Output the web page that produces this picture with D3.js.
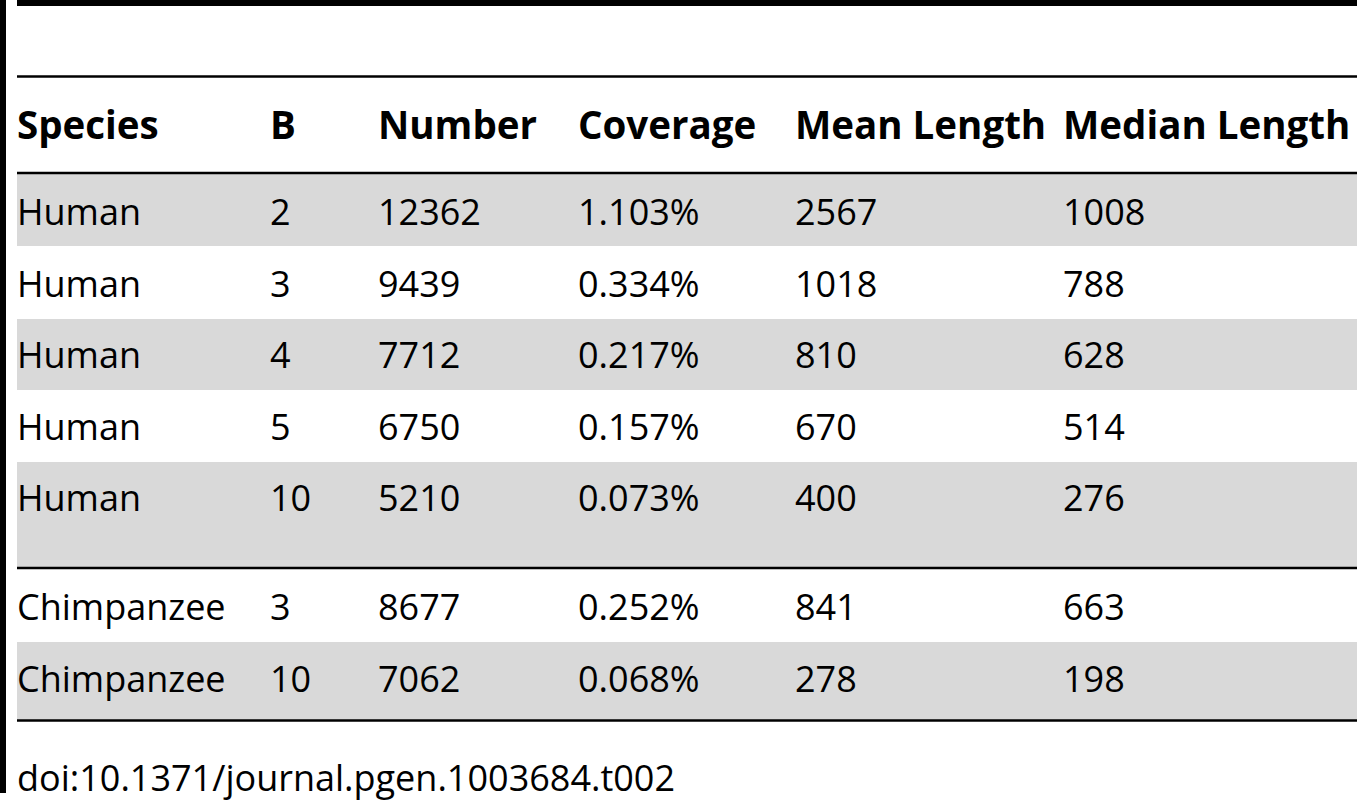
<!DOCTYPE html>
<html>
<head>
<meta charset="utf-8">
<script src="https://cdn.jsdelivr.net/npm/d3@7"></script>
<style>
  body { margin: 0; background: #fff; }
  svg { display: block; }
</style>
</head>
<body>
<svg id="chart"></svg>
<script>
const headers = ['Species', 'B', 'Number', 'Coverage', 'Mean Length', 'Median Length']
const species = ['Human', 'Human', 'Human', 'Human', 'Human', 'Chimpanzee', 'Chimpanzee']
const bValues = [2, 3, 4, 5, 10, 3, 10]
const numbers = [12362, 9439, 7712, 6750, 5210, 8677, 7062]
const coverage = ['1.103%', '0.334%', '0.217%', '0.157%', '0.073%', '0.252%', '0.068%']
const meanLength = [2567, 1018, 810, 670, 400, 841, 278]
const medianLength = [1008, 788, 628, 514, 276, 663, 198]
const footnote = 'doi:10.1371/journal.pgen.1003684.t002'

const width = 1357, height = 800
const left = 17
const font = '"Open Sans", "Noto Sans", sans-serif'
const shade = '#d9d9d9'

const svg = d3.select('#chart').attr('width', width).attr('height', height)

// column x positions
const x = d3.scaleOrdinal().domain(headers).range([17, 270, 378, 578, 795, 1063])

// row tops: 5 human rows, last one taller (spacer), then 2 chimp rows
const rowTops = [173, 246, 319, 390, 462, 568, 642]
const rowBottoms = [246, 319, 390, 462, 568, 642, 720]
const textY = [212, 284, 355, 427, 498, 607, 679]

const rows = species.map((s, i) => ({
  cells: [s, bValues[i], numbers[i], coverage[i], meanLength[i], medianLength[i]],
  top: rowTops[i], bottom: rowBottoms[i], ty: textY[i], shaded: i % 2 === 0
}))

// shaded backgrounds
svg.append('g').selectAll('rect')
  .data(rows.filter((d) => d.shaded))
  .join('rect')
  .attr('x', left)
  .attr('y', (d) => d.top)
  .attr('width', width - left)
  .attr('height', (d) => d.bottom - d.top)
  .attr('fill', shade)

// frame: left bar, thick top rule, table rules
svg.append('rect').attr('x', 0).attr('y', 0).attr('width', 6).attr('height', 793).attr('fill', '#000')
svg.append('rect').attr('x', left).attr('y', 0).attr('width', width - left).attr('height', 6).attr('fill', '#000')
svg.append('g').selectAll('line')
  .data([76.5, 173, 568, 720.5])
  .join('line')
  .attr('x1', left).attr('x2', width)
  .attr('y1', (d) => d).attr('y2', (d) => d)
  .attr('stroke', '#000')
  .attr('stroke-width', 2.5)

// header
svg.append('g').selectAll('text')
  .data(headers)
  .join('text')
  .attr('x', (d) => x(d))
  .attr('y', 125)
  .attr('dy', '0.36em')
  .attr('font-family', font)
  .attr('font-weight', 'bold')
  .attr('font-size', 38.5)
  .attr('fill', '#000')
  .text((d) => d)

// body
const body = svg.append('g')
rows.forEach((r) => {
  body.append('g').selectAll('text')
    .data(r.cells)
    .join('text')
    .attr('x', (d, j) => x(headers[j]))
    .attr('y', r.ty)
    .attr('dy', '0.36em')
    .attr('font-family', font)
    .attr('font-size', 36)
    .attr('fill', '#000')
    .text((d) => d)
})

svg.append('text')
  .attr('x', left)
  .attr('y', 778)
  .attr('dy', '0.36em')
  .attr('font-family', font)
  .attr('font-size', 36)
  .attr('fill', '#000')
  .text(footnote)
</script>
</body>
</html>
